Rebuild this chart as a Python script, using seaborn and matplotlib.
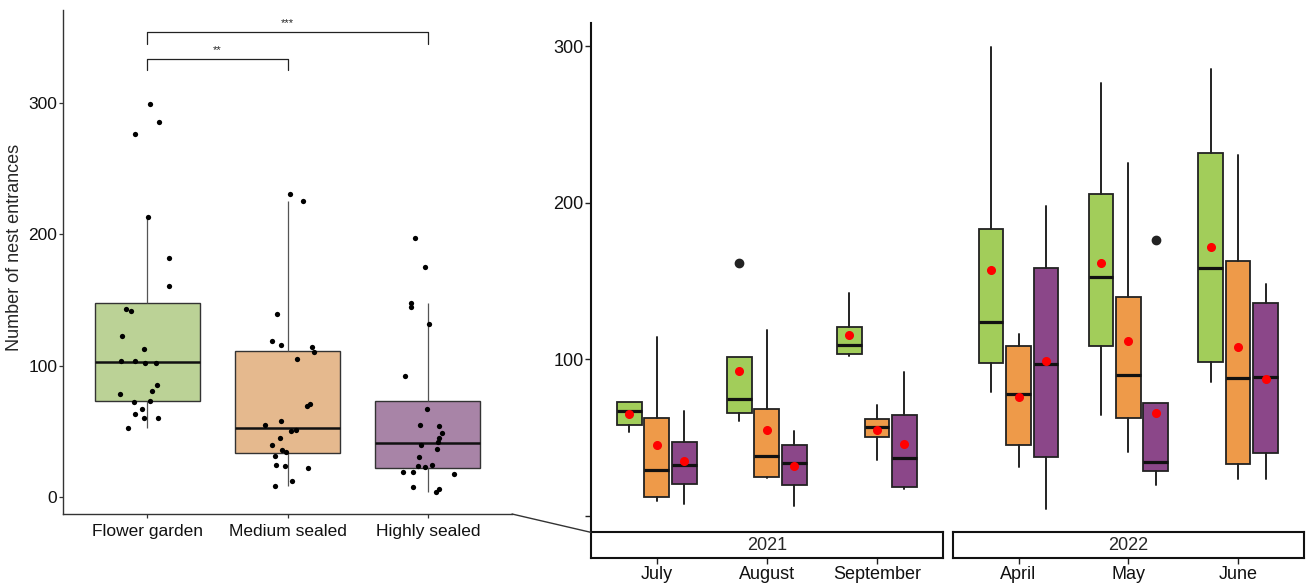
import numpy as np
import pandas as pd
import seaborn as sns
import matplotlib.pyplot as plt
from matplotlib.colors import to_rgb
from matplotlib.lines import Line2D

# ---- left panel: counts per site (jittered points) ----
sites = ["Flower garden", "Medium sealed", "Highly sealed"]
flower_garden = [299.5, 285.5, 276.6, 213.5, 182.0, 161.0, 143.5, 141.8, 122.7, 112.5,
                 103.8, 101.8, 101.8, 103.8, 85.0, 80.4, 78.6, 73.0, 72.5, 67.0,
                 63.4, 59.8, 59.8, 52.7]
medium_sealed = [230.8, 225.6, 139.7, 119.0, 115.8, 114.0, 110.7, 105.1, 71.0, 69.2,
                 57.5, 55.0, 50.7, 49.9, 44.6, 39.7, 35.6, 34.4, 31.1, 24.4,
                 23.4, 22.4, 12.5, 8.7]
highly_sealed = [197.2, 175.3, 147.9, 144.8, 131.8, 91.9, 66.7, 55.0, 54.0, 48.6,
                 44.6, 41.8, 39.7, 36.9, 30.5, 24.0, 23.4, 22.7, 19.1, 19.1,
                 17.3, 7.2, 5.9, 4.1]

# significance brackets (group a, group b, bracket height, label)
brackets = [(0, 1, 334, "**"), (0, 2, 354, "***")]

colors = ["#A2CD5A", "#EE9A49", "#8B4789"]

# ---- right panels: monthly summaries (rows = site, cols = month) ----
years = ["2021", "2022"]
months = [["July", "August", "September"], ["April", "May", "June"]]

lo_2021 = [[53.4, 60.4, 102.1], [9.5, 24.0, 35.5], [7.3, 6.3, 17.1]]
q1_2021 = [[58.0, 65.3, 103.4], [12.0, 24.8, 50.0], [19.9, 19.5, 18.4]]
med_2021 = [[66.8, 74.4, 108.7], [29.1, 38.0, 56.8], [32.1, 33.3, 36.9]]
q3_2021 = [[72.7, 101.1, 120.3], [62.5, 68.2, 61.5], [47.0, 45.0, 64.2]]
hi_2021 = [[72.7, 101.1, 142.0], [113.9, 118.5, 70.8], [67.0, 53.8, 91.7]]
mean_2021 = [[64.9, 92.1, 115.3], [45.2, 54.8, 54.8], [34.8, 31.6, 45.7]]
out_2021 = [[[], [161.1], []], [[], [], []], [[], [], []]]

lo_2022 = [[79.1, 64.2, 85.3], [31.2, 40.4, 23.3], [4.3, 19.3, 23.3]]
q1_2022 = [[97.6, 108.3, 97.9], [45.2, 62.1, 33.1], [37.6, 28.2, 39.7]]
med_2022 = [[123.8, 152.6, 158.1], [77.8, 90.0, 88.1], [97.0, 34.2, 88.5]]
q3_2022 = [[182.9, 205.6, 231.6], [108.5, 139.6, 162.6], [158.1, 71.7, 136.0]]
hi_2022 = [[299.6, 276.6, 285.5], [115.8, 225.4, 230.5], [197.6, 71.7, 147.9]]
mean_2022 = [[156.9, 161.5, 171.6], [75.9, 111.5, 107.7], [98.7, 65.7, 87.2]]
out_2022 = [[[], [], []], [[], [], []], [[], [176.0], []]]

summaries = [
    (lo_2021, q1_2021, med_2021, q3_2021, hi_2021, mean_2021, out_2021),
    (lo_2022, q1_2022, med_2022, q3_2022, hi_2022, mean_2022, out_2022),
]

sns.set_style("ticks")
plt.rcParams["font.family"] = ["Liberation Sans", "DejaVu Sans"]

W, H = 1306, 588
fig = plt.figure(figsize=(W / 100, H / 100), dpi=100)

# ---------------- left panel ----------------
df = pd.DataFrame({
    "site": np.repeat(sites, [len(flower_garden), len(medium_sealed), len(highly_sealed)]),
    "count": flower_garden + medium_sealed + highly_sealed,
})
light = [tuple(0.7 * np.array(to_rgb(c)) + 0.3) for c in colors]

ax = fig.add_axes([63 / W, 1 - 514 / H, (512 - 63) / W, (514 - 10) / H])
sns.boxplot(data=df, x="site", y="count", hue="site", order=sites, hue_order=sites,
            palette=light, width=0.75, showfliers=False, showcaps=False,
            linecolor="#333333", linewidth=1.0, legend=False, ax=ax,
            medianprops={"color": "#111111", "linewidth": 1.8},
            whiskerprops={"color": "#555555", "linewidth": 0.9})
np.random.seed(3)
sns.stripplot(data=df, x="site", y="count", order=sites, color="black",
              size=3.8, jitter=0.2, ax=ax)

for a, b, h, lab in brackets:
    ax.plot([a, a, b, b], [h - 9, h, h, h - 9], color="#222222", lw=0.9)
    ax.text((a + b) / 2, h + 3, lab, ha="center", va="bottom", fontsize=8)

ax.set_xlim(-0.6, 2.6)
ax.set_ylim(-13, 371)
ax.set_yticks([0, 100, 200, 300])
ax.set_xlabel("")
ax.set_ylabel("Number of nest entrances", fontsize=13)
ax.yaxis.set_label_coords(-0.089, 0.529)
ax.tick_params(axis="both", labelsize=12.5, length=3, width=0.9, pad=1,
               color="#333333", labelcolor="#111111")
ax.tick_params(axis="x", pad=4)
sns.despine(ax=ax)
for s in ["left", "bottom"]:
    ax.spines[s].set_color("#333333")
    ax.spines[s].set_linewidth(1.0)

# connector from left axis to right panels
fig.add_artist(Line2D([512 / W, 590.7 / W], [1 - 514 / H, 1 - 532.3 / H],
                      color="#333333", lw=1.0))

# ---------------- right panels ----------------
offsets = [-0.25, 0.0, 0.25]
panel_x = [(590.7, 943.0), (952.7, 1304.0)]
main_axes = []
for i, year in enumerate(years):
    x0, x1 = panel_x[i]
    rax = fig.add_axes([x0 / W, 1 - 532.3 / H, (x1 - x0) / W, (532.3 - 22.7) / H],
                       sharey=main_axes[0] if main_axes else None)
    main_axes.append(rax)
    lo, q1, med, q3, hi, mn, outs = summaries[i]
    for s in range(3):
        stats = []
        for m in range(3):
            stats.append({"whislo": lo[s][m], "q1": q1[s][m], "med": med[s][m],
                          "q3": q3[s][m], "whishi": hi[s][m], "mean": mn[s][m],
                          "fliers": outs[s][m]})
        rax.bxp(stats, positions=np.arange(3) + offsets[s], widths=0.225,
                patch_artist=True, showmeans=True, showcaps=False,
                boxprops={"facecolor": colors[s], "edgecolor": "#222222", "linewidth": 1.3},
                whiskerprops={"color": "#222222", "linewidth": 1.4},
                medianprops={"color": "#111111", "linewidth": 2.3},
                meanprops={"marker": "o", "markerfacecolor": "#FF0000",
                           "markeredgecolor": "#FF0000", "markersize": 5.5},
                flierprops={"marker": "o", "markerfacecolor": "#222222",
                            "markeredgecolor": "#222222", "markersize": 6})
    rax.set_xlim(-0.6, 2.6)
    rax.set_ylim(-10.7, 315)
    rax.tick_params(axis="x", bottom=False, labelbottom=False)
    for s in ["top", "right", "bottom"]:
        rax.spines[s].set_visible(False)
    if i == 0:
        rax.set_yticks([0, 100, 200, 300])
        rax.set_yticklabels(["", "100", "200", "300"])
        rax.tick_params(axis="y", labelsize=13, length=4, width=1.0, pad=1,
                        color="#222222", labelcolor="#111111")
        rax.spines["left"].set_color("#111111")
        rax.spines["left"].set_linewidth(1.5)
    else:
        rax.spines["left"].set_visible(False)
        rax.tick_params(axis="y", left=False, labelleft=False)

    # strip at the bottom with month ticks below
    sax = fig.add_axes([x0 / W, 1 - 558 / H, (x1 - x0) / W, (558 - 532.3) / H], sharex=rax)
    sax.set_yticks([])
    sax.set_xticks(range(3))
    sax.set_xticklabels(months[i])
    sax.tick_params(axis="x", labelsize=13, length=4, width=1.0, color="#222222",
                    labelcolor="#111111", pad=2)
    for s in sax.spines.values():
        s.set_visible(True)
        s.set_color("#111111")
        s.set_linewidth(1.5)
    sax.text(0.5, 0.5, year, transform=sax.transAxes, ha="center", va="center", fontsize=13)

fig.savefig("out.png", dpi=100)
